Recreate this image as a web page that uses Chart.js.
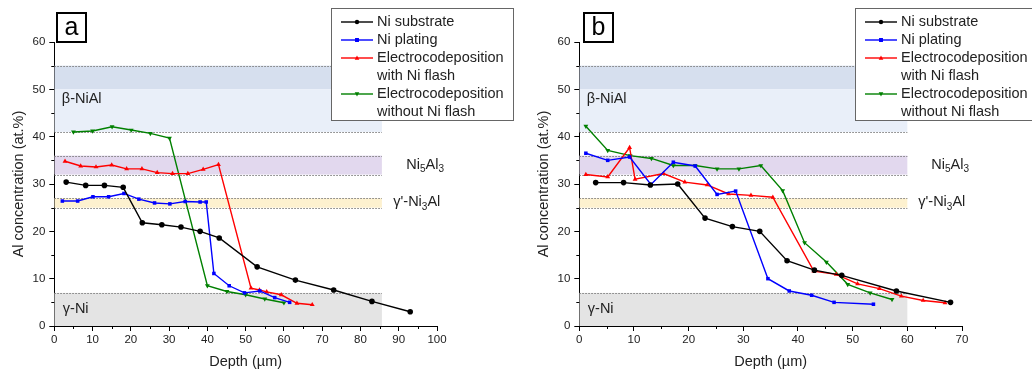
<!DOCTYPE html>
<html>
<head>
<meta charset="utf-8">
<script src="https://cdn.jsdelivr.net/npm/chart.js@4/dist/chart.umd.min.js"></script>
<style>
  html, body { margin:0; padding:0; background:#fff; overflow:hidden; }
  #wrap { position:relative; width:1032px; height:374px; }
  canvas { position:absolute; top:0; }
  #ca { left:0; }
  #cb { left:525px; }
</style>
</head>
<body>
<div id="wrap">
  <canvas id="ca" width="516" height="374"></canvas>
  <canvas id="cb" width="507" height="374"></canvas>
</div>
<script>
// ---------- data ----------
const seriesNames = ['Ni substrate', 'Ni plating', 'Electrocodeposition\nwith Ni flash', 'Electrocodeposition\nwithout Ni flash'];

// Panel a
const aSubX  = [3.1, 8.2, 13.1, 18.0, 23.0, 28.1, 33.1, 38.1, 43.1, 53.0, 63.0, 73.0, 83.0, 93.0];
const aSubY  = [30.4, 29.7, 29.7, 29.3, 21.8, 21.4, 20.9, 20.0, 18.6, 12.5, 9.7, 7.6, 5.2, 3.0];
const aPlatX = [2.1, 6.1, 10.1, 14.2, 18.2, 22.1, 26.2, 30.2, 34.2, 38.1, 39.7, 41.7, 45.7, 49.7, 53.7, 57.6, 61.5];
const aPlatY = [26.4, 26.4, 27.3, 27.3, 28.0, 26.8, 26.0, 25.8, 26.3, 26.2, 26.2, 11.1, 8.5, 7.0, 7.4, 6.0, 5.0];
const aEcdX  = [2.8, 6.9, 10.9, 15.0, 18.9, 22.9, 26.9, 30.9, 34.9, 38.9, 42.9, 51.4, 53.6, 55.5, 59.3, 63.4, 67.4];
const aEcdY  = [34.8, 33.8, 33.6, 34.0, 33.2, 33.2, 32.4, 32.2, 32.2, 33.1, 34.1, 8.0, 7.6, 7.2, 6.6, 4.8, 4.5];
const aNoX   = [5.0, 10.0, 15.1, 20.1, 25.1, 30.1, 40.0, 45.1, 50.0, 55.0, 60.0];
const aNoY   = [41.0, 41.2, 42.1, 41.4, 40.7, 39.7, 8.5, 7.3, 6.6, 5.7, 4.9];

// Panel b
const bSubX  = [3.0, 8.1, 13.0, 18.0, 23.0, 28.0, 33.0, 38.0, 43.0, 48.0, 58.0, 67.9];
const bSubY  = [30.3, 30.3, 29.8, 30.0, 22.8, 21.0, 20.0, 13.8, 11.8, 10.7, 7.4, 5.0];
const bPlatX = [1.2, 5.2, 9.2, 13.1, 17.2, 21.2, 25.2, 28.6, 34.5, 38.4, 42.5, 46.6, 53.8];
const bPlatY = [36.5, 35.0, 35.7, 29.9, 34.6, 33.8, 27.8, 28.5, 10.0, 7.4, 6.5, 5.0, 4.6];
const bEcdX  = [1.2, 5.2, 9.2, 10.2, 15.4, 19.3, 23.4, 27.3, 31.4, 35.4, 42.9, 47.0, 50.9, 54.9, 58.9, 62.9, 66.9];
const bEcdY  = [32.0, 31.5, 37.7, 31.0, 32.2, 30.4, 29.8, 27.9, 27.6, 27.2, 11.6, 10.9, 8.9, 7.9, 6.3, 5.4, 4.9];
const bNoX   = [1.2, 5.2, 9.3, 13.2, 17.2, 21.2, 25.2, 29.2, 33.2, 37.2, 41.2, 45.2, 49.1, 53.2, 57.2];
const bNoY   = [42.2, 37.1, 36.0, 35.4, 33.9, 33.9, 33.2, 33.2, 33.9, 28.6, 17.6, 13.5, 8.8, 7.0, 5.6];

// phase bands (at.% Al)
const bandLow  = [50, 41, 32, 25, 0];
const bandHigh = [55, 50, 36, 27, 7];
const dottedLevels = [55, 41, 36, 32, 27, 25, 7];
const aBandEnd = 85.6, bBandEnd = 60;
const aXMax = 100, bXMax = 70;
const yMax = 60;

// ---------- styles ----------
const FONT = '"Liberation Sans", Arial, sans-serif';
const TXT = '#222';
const bandColors = ['#d6dfee', '#e9eff9', '#e2d8ee', '#fdf1cf', '#e4e4e4'];
const seriesColors = ['#000000', '#0000ff', '#ff0000', '#008000'];
const seriesStyles = ['circle', 'rect', 'triangle', 'triangle'];
const seriesRot = [0, 0, 0, 180];

function zip(xs, ys) { return xs.map((v, i) => ({x: v, y: ys[i]})); }

function drawMarker(ctx, style, rot, cx, cy, r, color) {
  ctx.save();
  ctx.fillStyle = color; ctx.strokeStyle = color;
  ctx.translate(cx, cy);
  ctx.rotate(rot * Math.PI / 180);
  ctx.beginPath();
  if (style === 'circle') ctx.arc(0, 0, r, 0, Math.PI * 2);
  else if (style === 'rect') ctx.rect(-r * 0.9, -r * 0.9, r * 1.8, r * 1.8);
  else { ctx.moveTo(0, -r * 1.15); ctx.lineTo(r * 1.05, r * 0.75); ctx.lineTo(-r * 1.05, r * 0.75); ctx.closePath(); }
  ctx.fill();
  ctx.restore();
}

function drawSubText(ctx, parts, x, y) {
  let cx = x;
  parts.forEach(([t, sub]) => {
    ctx.font = (sub ? '10px ' : '14.5px ') + FONT;
    ctx.fillText(t, cx, y + (sub ? 5 : 0));
    cx += ctx.measureText(t).width;
  });
}

const panelPlugin = {
  id: 'panel',
  beforeDatasetsDraw(chart, args, opts) {
    const {ctx, chartArea: ca, scales: {x, y}} = chart;
    const x0 = x.getPixelForValue(0), xe = x.getPixelForValue(opts.bandEnd);
    ctx.save();
    ctx.beginPath(); ctx.rect(ca.left, ca.top, ca.width, ca.height); ctx.clip();
    bandLow.forEach((lo, i) => {
      const yt = y.getPixelForValue(bandHigh[i]), yb = y.getPixelForValue(lo);
      ctx.fillStyle = bandColors[i];
      ctx.fillRect(x0, yt, xe - x0, yb - yt);
    });
    ctx.strokeStyle = '#7a7a7a'; ctx.lineWidth = 1; ctx.setLineDash([1.5, 1.5]);
    dottedLevels.forEach(v => {
      const py = Math.round(y.getPixelForValue(v)) + 0.5;
      ctx.beginPath(); ctx.moveTo(x0, py); ctx.lineTo(xe, py); ctx.stroke();
    });
    ctx.restore();

    ctx.save();
    ctx.fillStyle = TXT; ctx.textBaseline = 'middle'; ctx.textAlign = 'left';
    ctx.font = '14.5px ' + FONT;
    ctx.fillText('β-NiAl', ca.left + 7.5, y.getPixelForValue(47.9));
    ctx.fillText('γ-Ni', ca.left + 8.5, y.getPixelForValue(3.5));
    drawSubText(ctx, [['Ni', 0], ['5', 1], ['Al', 0], ['3', 1]], ca.left + 352, y.getPixelForValue(34.1));
    drawSubText(ctx, [['γ\'-Ni', 0], ['3', 1], ['Al', 0]], ca.left + 339, y.getPixelForValue(26.2));
    ctx.restore();
  },
  afterDraw(chart, args, opts) {
    const {ctx, chartArea: ca, scales: {x, y}} = chart;
    ctx.save();
    ctx.strokeStyle = '#000'; ctx.lineWidth = 1;
    for (let v = 5; v < opts.xMax; v += 10) {
      const px = Math.round(x.getPixelForValue(v)) + 0.5;
      ctx.beginPath(); ctx.moveTo(px, ca.bottom); ctx.lineTo(px, ca.bottom + 3); ctx.stroke();
    }
    for (let v = 5; v < yMax; v += 10) {
      const py = Math.round(y.getPixelForValue(v)) + 0.5;
      ctx.beginPath(); ctx.moveTo(ca.left, py); ctx.lineTo(ca.left - 3, py); ctx.stroke();
    }
    const L = opts.letterBox;
    ctx.lineWidth = 2; ctx.strokeStyle = '#000'; ctx.fillStyle = '#fff';
    ctx.fillRect(L[0], L[1], L[2], L[3]);
    ctx.strokeRect(L[0], L[1], L[2], L[3]);
    ctx.fillStyle = '#000'; ctx.font = '25px ' + FONT; ctx.textAlign = 'center'; ctx.textBaseline = 'middle';
    ctx.fillText(opts.letter, L[0] + L[2] / 2, L[1] + L[3] / 2 + 1);
    const lx = opts.legendX, ly = 8.5, lw = 182, lh = 112;
    ctx.fillStyle = '#fff'; ctx.fillRect(lx, ly, lw, lh);
    ctx.lineWidth = 1; ctx.strokeStyle = '#666'; ctx.strokeRect(lx + 0.5, ly, lw, lh);
    ctx.font = '14.5px ' + FONT; ctx.textAlign = 'left'; ctx.textBaseline = 'middle';
    let row = 0;
    chart.data.datasets.forEach((ds, i) => {
      const cy = 22 + row * 18.0;
      ctx.strokeStyle = ds.borderColor; ctx.lineWidth = 1.4;
      ctx.beginPath(); ctx.moveTo(lx + 10, cy); ctx.lineTo(lx + 42, cy); ctx.stroke();
      drawMarker(ctx, seriesStyles[i], seriesRot[i], lx + 26, cy, 2.2, ds.borderColor);
      ctx.fillStyle = TXT;
      ds.label.split('\n').forEach((t, k) => { ctx.fillText(t, lx + 46, cy + k * 18.0); row += 1; });
    });
    ctx.restore();
  }
};

function makeChart(id, sets, xMax, bandEnd, letter, letterBox, legendX) {
  const datasets = sets.map((pts, i) => ({
    label: seriesNames[i],
    data: pts,
    borderColor: seriesColors[i],
    backgroundColor: seriesColors[i],
    borderWidth: 1.4,
    pointStyle: seriesStyles[i],
    rotation: seriesRot[i],
    pointRadius: seriesStyles[i] === 'rect' ? 2.5 : 2.8,
    pointBorderWidth: 0,
    tension: 0,
    clip: false
  }));
  return new Chart(document.getElementById(id), {
    type: 'line',
    data: {datasets},
    plugins: [panelPlugin],
    options: {
      responsive: false, animation: false, devicePixelRatio: 1,
      layout: {padding: {top: 42, right: document.getElementById(id).width - 437, left: 0, bottom: 0}},
      plugins: {
        legend: {display: false}, tooltip: {enabled: false},
        panel: {bandEnd, xMax, letter, letterBox, legendX}
      },
      scales: {
        x: {
          type: 'linear', min: 0, max: xMax,
          afterFit: s => { s.height = 48; },
          ticks: {stepSize: 10, color: TXT, font: {family: FONT, size: 11.5}, padding: 2, maxRotation: 0},
          grid: {drawOnChartArea: false, drawTicks: true, tickLength: 5, color: '#000'},
          border: {display: true, color: '#000', width: 1},
          title: {display: true, text: 'Depth (µm)', color: TXT, font: {family: FONT, size: 14.5}, padding: {top: 0, bottom: 3}}
        },
        y: {
          type: 'linear', min: 0, max: yMax,
          afterFit: s => { s.width = 54.3; },
          ticks: {stepSize: 10, color: TXT, font: {family: FONT, size: 11.5}, padding: 4},
          grid: {drawOnChartArea: false, drawTicks: true, tickLength: 5, color: '#000'},
          border: {display: true, color: '#000', width: 1},
          title: {display: true, text: 'Al concentration (at.%)', color: TXT, font: {family: FONT, size: 14.5}, padding: {top: 10, bottom: 0}}
        }
      }
    }
  });
}

makeChart('ca',
  [zip(aSubX, aSubY), zip(aPlatX, aPlatY), zip(aEcdX, aEcdY), zip(aNoX, aNoY)],
  aXMax, aBandEnd, 'a', [57, 13, 29, 29], 331);
makeChart('cb',
  [zip(bSubX, bSubY), zip(bPlatX, bPlatY), zip(bEcdX, bEcdY), zip(bNoX, bNoY)],
  bXMax, bBandEnd, 'b', [59, 13, 29, 29], 330);
</script>
</body>
</html>
